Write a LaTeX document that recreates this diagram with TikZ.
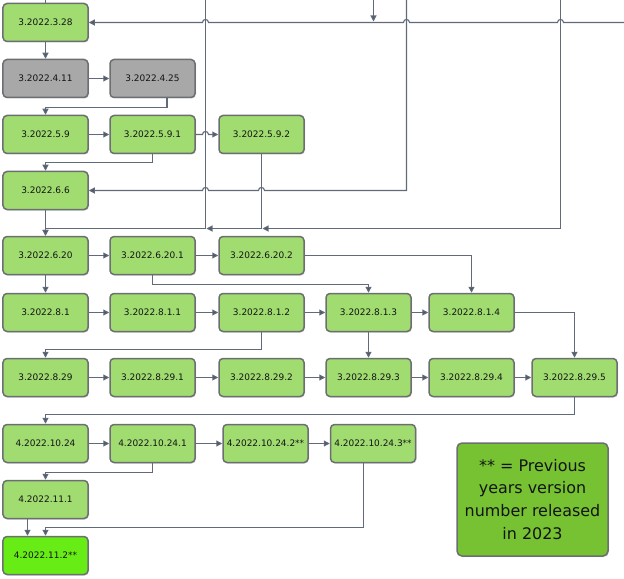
\documentclass[tikz,border=0pt]{standalone}
\usepackage{fontspec}
\setmainfont{DejaVu Sans}
\usetikzlibrary{arrows.meta,shadows}
\definecolor{lgreen}{RGB}{160,220,112}
\definecolor{gbox}{RGB}{168,168,168}
\definecolor{bgreen}{RGB}{104,236,22}
\definecolor{legfill}{RGB}{118,194,50}
\definecolor{boxline}{RGB}{108,110,114}
\definecolor{lc}{RGB}{96,106,120}
\definecolor{txt}{RGB}{20,20,20}
\begin{document}
\begin{tikzpicture}[x=1bp,y=-1bp,
  box/.style={draw=boxline, line width=1.5bp, rounded corners=4bp, minimum width=85bp, minimum height=38bp,
    inner sep=0pt, fill=lgreen, text=txt, font=\fontsize{9}{10}\selectfont,
    drop shadow={shadow xshift=1bp, shadow yshift=-1bp, opacity=0.3}},
  graybox/.style={box, fill=gbox},
  brightbox/.style={box, fill=bgreen},
  legendbox/.style={draw=boxline, line width=1.5bp, rounded corners=5bp, minimum width=151bp, minimum height=113bp,
    inner sep=0pt, fill=legfill, text=txt, align=center, font=\fontsize{16}{23}\selectfont,
    drop shadow={shadow xshift=1bp, shadow yshift=-1bp, opacity=0.3}},
  conn/.style={draw=lc, line width=1.1bp},
  arr/.style={conn, -{Triangle[length=6bp,width=6bp,fill=lc!80!black]}},
]
\useasboundingbox (0,0) rectangle (624,579);

% nodes
\node[box] (n328) at (45.5,22.5) {3.2022.3.28};
\node[graybox] (n411) at (45.5,78.5) {3.2022.4.11};
\node[graybox] (n425) at (152.5,78.5) {3.2022.4.25};
\node[box] (n59) at (45.5,134.5) {3.2022.5.9};
\node[box] (n591) at (152.5,134.5) {3.2022.5.9.1};
\node[box] (n592) at (261.5,134.5) {3.2022.5.9.2};
\node[box] (n66) at (45.5,190.5) {3.2022.6.6};
\node[box] (n620) at (45.5,255.5) {3.2022.6.20};
\node[box] (n6201) at (152.5,255.5) {3.2022.6.20.1};
\node[box] (n6202) at (261.5,255.5) {3.2022.6.20.2};
\node[box] (n81) at (45.5,312.5) {3.2022.8.1};
\node[box] (n811) at (152.5,312.5) {3.2022.8.1.1};
\node[box] (n812) at (261.5,312.5) {3.2022.8.1.2};
\node[box] (n813) at (368.5,312.5) {3.2022.8.1.3};
\node[box] (n814) at (471.5,312.5) {3.2022.8.1.4};
\node[box] (n829) at (45.5,377.5) {3.2022.8.29};
\node[box] (n8291) at (152.5,377.5) {3.2022.8.29.1};
\node[box] (n8292) at (261.5,377.5) {3.2022.8.29.2};
\node[box] (n8293) at (368.5,377.5) {3.2022.8.29.3};
\node[box] (n8294) at (471.5,377.5) {3.2022.8.29.4};
\node[box] (n8295) at (574.5,377.5) {3.2022.8.29.5};
\node[box] (n1024) at (45.5,443.5) {4.2022.10.24};
\node[box] (n10241) at (152.5,443.5) {4.2022.10.24.1};
\node[box] (n10242) at (265.5,443.5) {4.2022.10.24.2**};
\node[box] (n10243) at (373,443.5) {4.2022.10.24.3**};
\node[box] (n111) at (45.5,499.5) {4.2022.11.1};
\node[brightbox] (n112) at (45.5,555.5) {4.2022.11.2**};
\node[legendbox] (leg) at (532.5,499.5) {** = Previous\\years version\\number released\\in 2023};

% free ends and junctions
\coordinate (t1) at (45.5,0);
\coordinate (tA) at (373.5,0);
\coordinate (tB) at (205.5,0);
\coordinate (tC) at (406.5,0);
\coordinate (tD) at (560.5,0);
\coordinate (eR) at (624,22.5);
\coordinate (jA) at (373.5,21.5);
\coordinate (jB) at (205.5,228.5);
\coordinate (jC) at (261.5,228.5);

% top incoming lines
\draw[conn] (t1) -- (n328.north);
\draw[arr] (tA) -- (jA);
\draw[arr] (eR) -- (563.5,22.5) .. controls (563.5,18.5) and (557.5,18.5) .. (557.5,22.5)
  -- (409.5,22.5) .. controls (409.5,18.5) and (403.5,18.5) .. (403.5,22.5)
  -- (208.5,22.5) .. controls (208.5,18.5) and (202.5,18.5) .. (202.5,22.5) -- (n328.east);
\draw[conn] (tB) -- (jB);
\draw[arr] (tC) -- (406.5,190.5) -- (264.5,190.5) .. controls (264.5,186.5) and (258.5,186.5) .. (258.5,190.5)
  -- (208.5,190.5) .. controls (208.5,186.5) and (202.5,186.5) .. (202.5,190.5) -- (n66.east);
\draw[arr] (tD) |- ([xshift=1bp]jC);
\draw[arr] (jC) -- ([xshift=1bp]jB);
\draw[arr] (jB) -| (n620.north);

% rows 1-4
\draw[arr] (n328) -- (n411);
\draw[arr] (n411) -- (n425);
\draw[arr] ([xshift=14.5bp]n425.south) -- ++(0,9) -| (n59.north);
\draw[arr] (n59) -- (n591);
\draw[arr] (n591.east) -- (202.5,134.5) .. controls (202.5,130.5) and (208.5,130.5) .. (208.5,134.5) -- (n592.west);
\draw[arr] (n591.south) -- ++(0,8) -| (n66.north);
\draw[conn] (n592.south) -- (jC);
\draw[arr] (n66) -- (n620);

% 6.20 row
\draw[arr] (n620) -- (n6201);
\draw[arr] (n6201) -- (n6202);
\draw[arr] (n620) -- (n81);
\draw[arr] (n6201.south) -- ++(0,9) -| (n813.north);
\draw[arr] (n6202.east) -| (n814.north);

% 8.1 row
\draw[arr] (n81) -- (n811);
\draw[arr] (n811) -- (n812);
\draw[arr] (n812) -- (n813);
\draw[arr] (n813) -- (n814);
\draw[arr] (n812.south) -- ++(0,17) -| (n829.north);
\draw[arr] (n813) -- (n8293);
\draw[arr] (n814.east) -| (n8295.north);

% 8.29 row
\draw[arr] (n829) -- (n8291);
\draw[arr] (n8291) -- (n8292);
\draw[arr] (n8292) -- (n8293);
\draw[arr] (n8293) -- (n8294);
\draw[arr] (n8294) -- (n8295);
\draw[arr] (n8295.south) -- ++(0,17) -| (n1024.north);

% 10.24 row
\draw[arr] (n1024) -- (n10241);
\draw[arr] (n10241) -- (n10242);
\draw[arr] (n10242) -- (n10243);
\draw[arr] (n10241.south) -- ++(0,9) -| (n111.north);
\draw[arr] ([xshift=-18bp]n111.south) -- ([xshift=-18bp]n112.north);
\draw[arr] ([xshift=-9.5bp]n10243.south) -- ++(0,64) -| (n112.north);
\end{tikzpicture}
\end{document}
